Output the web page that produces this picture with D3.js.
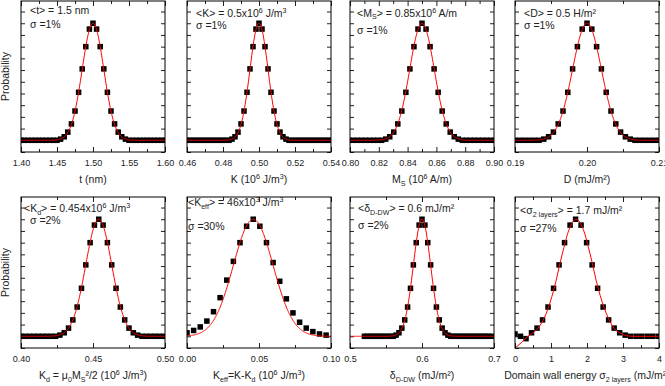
<!DOCTYPE html>
<html>
<head>
<meta charset="utf-8">
<script src="https://cdn.jsdelivr.net/npm/d3@7"></script>
<style>
  body { margin: 0; background: #fff; }
  svg text { font-family: "Liberation Sans", Arial, sans-serif; fill: #222; }
</style>
</head>
<body>
<svg id="chart" width="665" height="386"></svg>
<script>
// ---- data (probabilities normalised to peak = 1) ----
const tVals = [0,0,0,0,0,0,0,0,0,0,0, 0.01,0.03,0.07,0.14,0.25,0.41,0.61,0.80,0.95,1.00,0.95,0.80,0.61,0.41,0.25,0.14,0.07,0.03,0.01, 0,0,0,0,0,0,0,0,0,0,0];
const kVals = [0,0,0,0,0,0,0,0,0,0,0,0,0,0,0, 0.01,0.03,0.07,0.14,0.25,0.41,0.61,0.80,0.95,1.00,0.95,0.80,0.61,0.41,0.25,0.14,0.07,0.03,0.01, 0,0,0,0,0,0,0,0,0,0,0,0,0,0,0];
const msVals = [0,0,0,0,0,0,0,0,0, 0.01,0.03,0.07,0.14,0.25,0.41,0.61,0.80,0.95,1.00,0.95,0.80,0.61,0.41,0.25,0.14,0.07,0.03,0.01, 0,0,0,0,0,0,0,0,0];
const dVals = [0,0,0,0,0,0, 0.01,0.03,0.07,0.14,0.25,0.41,0.61,0.80,0.95,1.00,0.95,0.80,0.61,0.41,0.25,0.14,0.07,0.03,0.01, 0,0,0,0,0,0];
const kdVals = [0,0,0,0,0,0,0,0,0, 0.01,0.03,0.07,0.14,0.25,0.41,0.61,0.80,0.95,1.00,0.95,0.80,0.61,0.41,0.25,0.14,0.07,0.03,0.01, 0,0,0,0,0,0];
const keffVals = [0.03,0.05,0.08,0.13,0.21,0.33,0.48,0.64,0.80,0.94,1.00,0.94,0.80,0.63,0.47,0.32,0.20,0.12,0.07,0.04,0.02,0.01];
const deltaVals = [0,0,0,0,0,0,0,0,0,0,0, 0.01,0.03,0.07,0.14,0.25,0.41,0.61,0.80,0.95,1.00,0.95,0.80,0.61,0.41,0.25,0.14,0.07,0.03,0.01, 0,0,0,0,0,0,0,0,0,0,0,0,0,0,0];
const sigmaVals = [0.02,0,-0.02,0.03,0.07,0.14,0.25,0.41,0.61,0.80,0.95,1.00,0.95,0.80,0.61,0.41,0.25,0.14,0.07,0.03,0.01,0,0,0,0,0,0];

const seriesVals = [tVals, kVals, msVals, dVals, kdVals, keffVals, deltaVals, sigmaVals];
const xStarts = [1.40, 0.46, 0.7996, 0.19, 0.40, 0.0, 0.52, 0.0];
const xSteps = [0.005, 0.08 / 48, 0.0028, 0.02 / 30, 0.003, 0.0046, 0.004, 0.153];

// gaussian fits: mean and standard deviation (panels 1-7)
const fitMeans = [1.5, 0.5, 0.85, 0.2, 0.454, 0.046, 0.6];
const fitSigmas = [0.015, 0.005, 0.0085, 0.002, 0.00908, 0.0138, 0.012];
// fitted curve of the last panel
const sigmaFitX = [0, 0.19, 0.36, 0.5, 0.64, 0.86, 1.08, 1.31, 1.5, 1.7, 1.9, 2.08, 2.31, 2.53, 2.75, 2.97, 3.25, 3.6, 4.0];
const sigmaFitY = [-0.10, -0.05, 0.0, 0.03, 0.07, 0.19, 0.40, 0.70, 0.91, 1.0, 0.91, 0.71, 0.41, 0.20, 0.07, 0.02, 0.0, 0.0, 0.0];

const xDomains = [[1.40, 1.60], [0.46, 0.54], [0.80, 0.90], [0.19, 0.21], [0.40, 0.50], [0.00, 0.10], [0.5, 0.7], [0, 4]];
const xTickLabels = [
  ["1.40", "1.45", "1.50", "1.55", "1.60"],
  ["0.46", "0.48", "0.50", "0.52", "0.54"],
  ["0.80", "0.82", "0.84", "0.86", "0.88", "0.90"],
  ["0.19", "0.20", "0.21"],
  ["0.40", "0.45", "0.50"],
  ["0.00", "0.05", "0.10"],
  ["0.5", "0.6", "0.7"],
  ["0", "1", "2", "3", "4"]
];

// text pieces: [string, "sub" | "sup" | undefined]
const annotMain = [
  [["<t> = 1.5 nm"]],
  [["<K> = 0.5x10"], ["6", "sup"], [" J/m"], ["3", "sup"]],
  [["<M"], ["S", "sub"], ["> = 0.85x10"], ["6", "sup"], [" A/m"]],
  [["<D> = 0.5 H/m²"]],
  [["<K"], ["d", "sub"], ["> = 0.454x10"], ["6", "sup"], [" J/m"], ["3", "sup"]],
  [["<K"], ["eff", "sub"], ["> = 46x10"], ["3", "sup"], [" J/m"], ["3", "sup"]],
  [["<δ"], ["D-DW", "sub"], ["> = 0.6 mJ/m²"]],
  [["<σ"], ["2 layers", "sub"], ["> = 1.7 mJ/m²"]]
];
const annotSigma = ["σ =1%", "σ =1%", "σ =1%", "σ =1%", "σ =2%", "σ =30%", "σ =2%", "σ =27%"];
const axisTitles = [
  [["t (nm)"]],
  [["K (10"], ["6", "sup"], [" J/m"], ["3", "sup"], [")"]],
  [["M"], ["S", "sub"], ["  (10"], ["6", "sup"], [" A/m)"]],
  [["D (mJ/m²)"]],
  [["K"], ["d", "sub"], [" = μ"], ["0", "sub"], ["M"], ["S", "sub"], ["²/2 (10"], ["6", "sup"], [" J/m"], ["3", "sup"], [")"]],
  [["K"], ["eff", "sub"], ["=K-K"], ["d", "sub"], [" (10"], ["6", "sup"], [" J/m"], ["3", "sup"], [")"]],
  [["δ"], ["D-DW", "sub"], [" (mJ/m²)"]],
  [["Domain wall energy σ"], ["2 layers", "sub"], [" (mJ/m²)"]]
];

// ---- layout ----
const panelX = [21, 187, 350, 515];
const rowY = [1, 197];
const panelW = 144, panelH = 151;
const annotDx = [9, 9, 7, 9, 3, 1, 8, 5];
const sigmaDx = [9, 9, 7, 9, 9, 1, 8, 5];
const annotDy = [12.5, 15.5, 15.5, 15.5, 15, 9, 15, 17];
const sigmaDy = [26.5, 27.5, 32.5, 27.5, 27, 33, 32, 35];

const svg = d3.select('#chart');

function richText(sel, parts, size) {
  let shift = 0;
  parts.forEach(p => {
    let target = p[1] === 'sub' ? 2.5 : (p[1] === 'sup' ? -4 : 0);
    sel.append('tspan')
      .attr('dy', target - shift)
      .style('font-size', (p[1] ? size * 0.68 : size) + 'px')
      .text(p[0]);
    shift = target;
  });
}

for (let i = 0; i < 8; i++) {
  let col = i % 4, row = Math.floor(i / 4);
  let g = svg.append('g').attr('transform', `translate(${panelX[col]},${rowY[row]})`);

  let x = d3.scaleLinear().domain(xDomains[i]).range([0, panelW]);
  let y = d3.scaleLinear().domain([-0.1, 1.19]).range([panelH, 0]);

  let majors = xTickLabels[i].map(Number);
  let minors = [];
  for (let j = 0; j < majors.length - 1; j++) minors.push((majors[j] + majors[j + 1]) / 2);

  // bottom axis with labels
  let bottom = g.append('g').attr('transform', `translate(0,${panelH})`)
    .call(d3.axisBottom(x).tickValues(majors).tickSize(-5).tickPadding(8)
      .tickFormat((d, k) => xTickLabels[i][k]));
  bottom.selectAll('text').style('font-size', '9px');
  g.append('g').attr('transform', `translate(0,${panelH})`)
    .call(d3.axisBottom(x).tickValues(minors).tickSize(-3).tickFormat(''));
  g.append('g').call(d3.axisTop(x).tickValues(majors).tickSize(-5).tickFormat(''));
  g.append('g').call(d3.axisTop(x).tickValues(minors).tickSize(-3).tickFormat(''));

  let yTicks = d3.range(-1, 12).map(k => k / 10);
  g.append('g').call(d3.axisLeft(y).tickValues(yTicks).tickSize(-4).tickFormat(''));
  g.append('g').attr('transform', `translate(${panelW},0)`)
    .call(d3.axisRight(y).tickValues(yTicks).tickSize(-4).tickFormat(''));

  g.selectAll('.domain').remove();
  g.selectAll('.tick line').attr('stroke', '#222');

  let clipId = 'clip' + i;
  g.append('clipPath').attr('id', clipId)
    .append('rect').attr('width', panelW).attr('height', panelH);

  let plot = g.append('g').attr('clip-path', `url(#${clipId})`);

  let pts = seriesVals[i].map((v, j) => ({ x: xStarts[i] + j * xSteps[i], y: v }));
  let s = 5.5;
  plot.selectAll('rect.pt')
    .data(pts)
    .enter()
    .append('rect')
    .attr('class', 'pt')
    .attr('x', d => x(d.x) - s / 2)
    .attr('y', d => y(d.y) - s / 2)
    .attr('width', s)
    .attr('height', s)
    .attr('fill', '#000');

  let fit;
  if (i < 7) {
    let mu = fitMeans[i], sd = fitSigmas[i];
    fit = d3.range(0, 301).map(k => {
      let xv = xDomains[i][0] + (xDomains[i][1] - xDomains[i][0]) * k / 300;
      return [xv, Math.exp(-0.5 * Math.pow((xv - mu) / sd, 2))];
    });
  } else {
    fit = sigmaFitX.map((v, k) => [v, sigmaFitY[k]]);
  }
  plot.append('path')
    .datum(fit)
    .attr('fill', 'none')
    .attr('stroke', '#ff0000')
    .attr('stroke-width', 1)
    .attr('d', d3.line().curve(d3.curveMonotoneX).x(d => x(d[0])).y(d => y(d[1])));

  g.append('rect')
    .attr('width', panelW).attr('height', panelH)
    .attr('fill', 'none').attr('stroke', '#000').attr('stroke-width', 1);

  // annotations
  richText(g.append('text').attr('x', annotDx[i]).attr('y', annotDy[i]), annotMain[i], 10.5);
  g.append('text').attr('x', sigmaDx[i]).attr('y', sigmaDy[i])
    .style('font-size', '10.5px').text(annotSigma[i]);

  // x title
  richText(g.append('text').attr('x', panelW / 2).attr('y', panelH + 31)
    .attr('text-anchor', 'middle'), axisTitles[i], 10.5);

  if (col === 0) {
    svg.append('text')
      .attr('transform', `translate(9,${rowY[row] + panelH / 2}) rotate(-90)`)
      .attr('text-anchor', 'middle')
      .style('font-size', '10.5px')
      .text('Probability');
  }
}
</script>
</body>
</html>
